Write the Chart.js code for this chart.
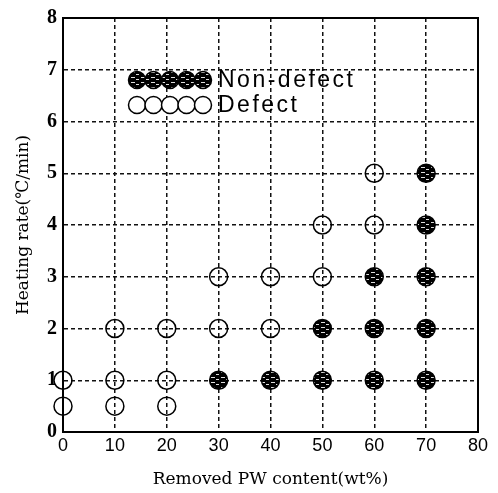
<!DOCTYPE html>
<html>
<head>
<meta charset="utf-8">
<script src="https://cdn.jsdelivr.net/npm/chart.js@4"></script>
<style>
  html, body { margin: 0; padding: 0; background: #fff; }
  #wrap { width: 498px; height: 493px; }
</style>
</head>
<body>
<div id="wrap"><canvas id="myChart" width="498" height="493"></canvas></div>
<script>
// Removed PW content (wt%) and heating rate (C/min) for each run
const defectX = [0, 10, 20, 0, 10, 20, 10, 20, 30, 40, 30, 40, 50, 50, 60, 60];
const defectY = [0.5, 0.5, 0.5, 1, 1, 1, 2, 2, 2, 2, 3, 3, 3, 4, 4, 5];
const nonDefectX = [30, 40, 50, 60, 70, 50, 60, 70, 60, 70, 70, 70];
const nonDefectY = [1, 1, 1, 1, 1, 2, 2, 2, 3, 3, 4, 5];
const legendLabels = ['Non-defect', 'Defect'];

// Striped black fill for the non-defect markers
function makeStripes() {
    const c = document.createElement('canvas');
    c.width = 10;
    c.height = 5;
    const g = c.getContext('2d');
    g.fillStyle = '#000';
    g.fillRect(0, 0, 10, 5);
    g.fillStyle = '#ddd';
    g.fillRect(1, 2, 4, 1);
    g.fillRect(6, 4, 3, 1);
    return g.createPattern(c, 'repeat');
}
const stripes = makeStripes();

const toPoints = (xs, ys) => xs.map((x, i) => ({ x: x, y: ys[i] }));

// Box round the plot and the five-circle legend
const boxAndLegend = {
    id: 'boxAndLegend',
    beforeDatasetsDraw(chart) {
        const a = chart.chartArea;
        const ctx = chart.ctx;
        ctx.save();
        ctx.strokeStyle = '#000';
        ctx.lineWidth = 2;
        ctx.setLineDash([]);
        ctx.strokeRect(a.left, a.top, a.right - a.left, a.bottom - a.top);
        ctx.restore();
    },
    afterDraw(chart) {
        const ctx = chart.ctx;
        const rows = [
            { y: 80, fill: stripes, text: legendLabels[0] },
            { y: 105, fill: null, text: legendLabels[1] }
        ];
        ctx.save();
        rows.forEach(row => {
            for (let k = 0; k < 5; k++) {
                const cx = 137 + k * 16.5;
                ctx.beginPath();
                ctx.arc(cx, row.y, 8.5, 0, Math.PI * 2);
                ctx.fillStyle = row.fill ? row.fill : '#fff';
                ctx.fill();
                ctx.lineWidth = 1.5;
                ctx.strokeStyle = '#000';
                ctx.stroke();
            }
            ctx.fillStyle = '#000';
            ctx.font = '23px "Liberation Sans", Arial, sans-serif';
            ctx.letterSpacing = '2.5px';
            ctx.textBaseline = 'middle';
            ctx.textAlign = 'left';
            ctx.fillText(row.text, 218, row.y + 1);
        });
        ctx.restore();
    }
};

const ctx = document.getElementById('myChart').getContext('2d');
const chart = new Chart(ctx, {
    type: 'scatter',
    data: {
        datasets: [
            {
                label: 'Non-defect',
                data: toPoints(nonDefectX, nonDefectY),
                backgroundColor: stripes,
                borderColor: '#000',
                borderWidth: 1.5,
                pointRadius: 9,
                pointHoverRadius: 9,
                clip: false
            },
            {
                label: 'Defect',
                data: toPoints(defectX, defectY),
                backgroundColor: 'rgba(0,0,0,0)',
                borderColor: '#000',
                borderWidth: 1.5,
                pointRadius: 9,
                pointHoverRadius: 9,
                clip: false
            }
        ]
    },
    options: {
        responsive: false,
        animation: false,
        events: [],
        layout: { padding: { top: 11, right: 20, left: 0, bottom: 0 } },
        plugins: {
            legend: { display: false },
            tooltip: { enabled: false }
        },
        scales: {
            x: {
                type: 'linear',
                position: 'bottom',
                min: 0,
                max: 80,
                afterFit: s => { s.height = 61; },
                ticks: {
                    stepSize: 10,
                    color: '#000',
                    padding: 3,
                    maxRotation: 0,
                    font: { family: '"Liberation Sans", Arial, sans-serif', size: 18 }
                },
                grid: { color: '#111', lineWidth: 1.5, drawTicks: false },
                border: { color: '#000', width: 2, dash: [4, 3] },
                title: {
                    display: true,
                    text: 'Removed PW content(wt%)',
                    color: '#000',
                    padding: { top: 0, bottom: 3 },
                    font: { family: '"DejaVu Serif", serif', size: 17 }
                }
            },
            y: {
                type: 'linear',
                min: 0,
                max: 8,
                afterFit: s => { s.width = 63; },
                ticks: {
                    stepSize: 1,
                    color: '#000',
                    padding: 6,
                    font: { family: '"Liberation Serif", "Times New Roman", serif', size: 20, weight: 'bold' }
                },
                grid: { color: '#111', lineWidth: 1.5, drawTicks: false },
                border: { color: '#000', width: 2, dash: [4, 3] },
                title: {
                    display: true,
                    text: 'Heating rate(℃/min)',
                    color: '#000',
                    padding: { top: 13, bottom: 0 },
                    font: { family: '"DejaVu Serif", serif', size: 17 }
                }
            }
        }
    },
    plugins: [boxAndLegend]
});
</script>
</body>
</html>
